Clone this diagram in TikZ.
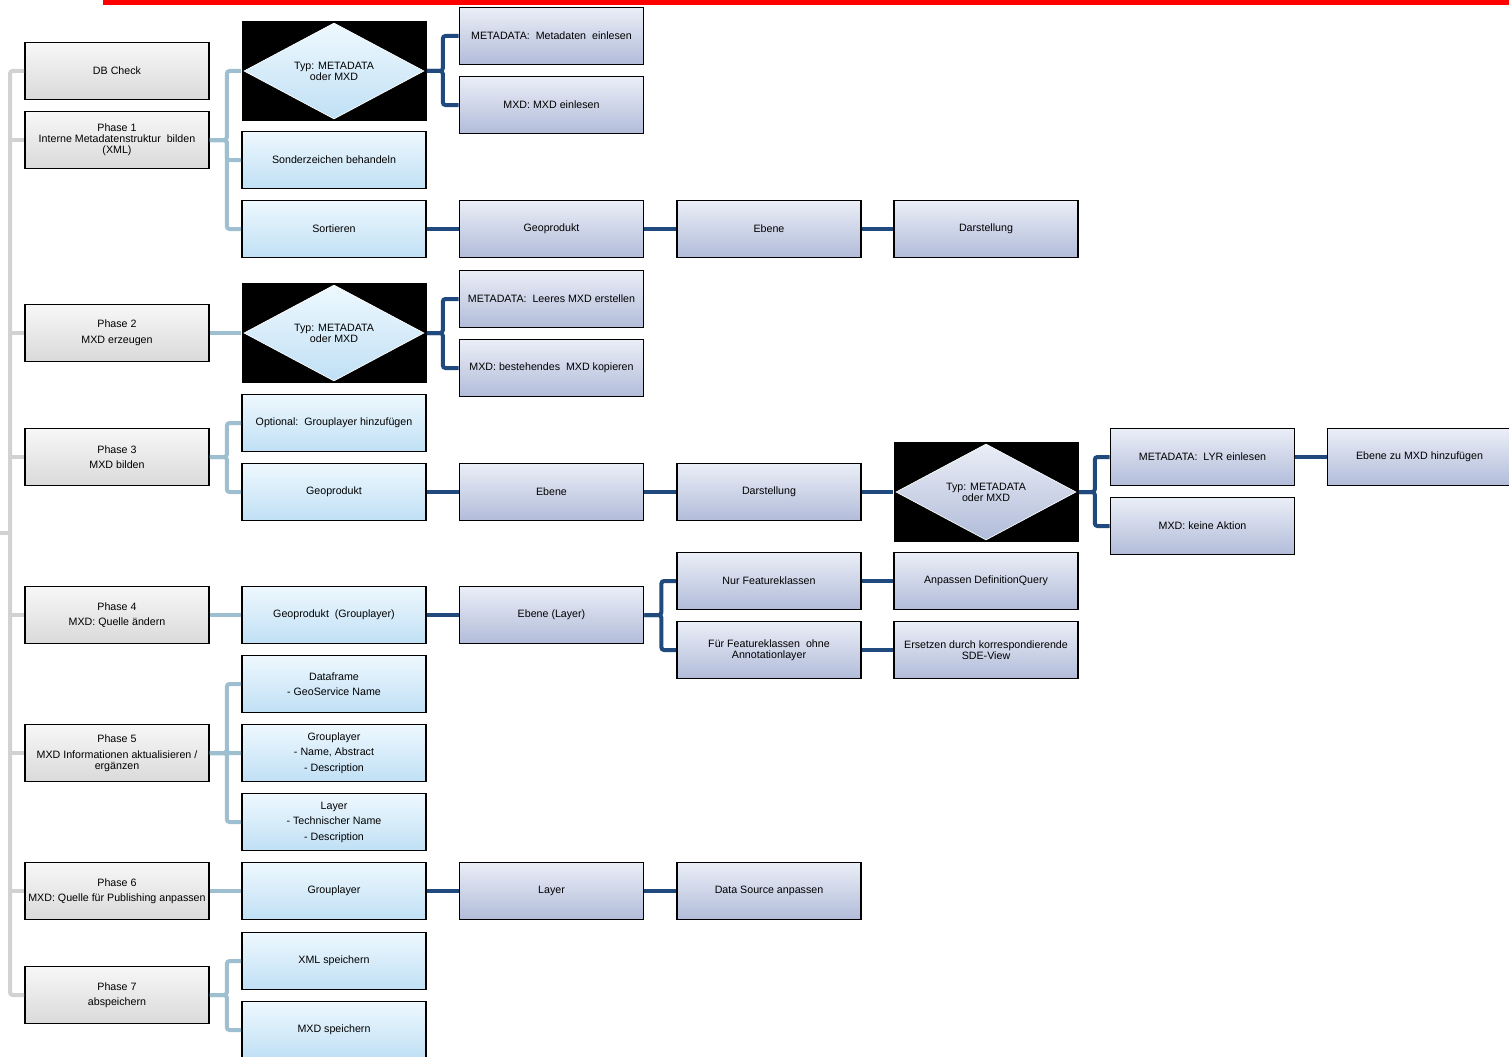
\documentclass[tikz,border=0pt]{standalone}
\usepackage{fontspec}
\setmainfont{Liberation Sans}
\usetikzlibrary{calc,shapes.geometric}
\definecolor{trunkc}{HTML}{D2D2D2}
\definecolor{lightc}{HTML}{9DBFCF}
\definecolor{darkc}{HTML}{204A7E}
\definecolor{grayT}{HTML}{F7F7F7}
\definecolor{grayB}{HTML}{DADADA}
\definecolor{blueT}{HTML}{EEF8FE}
\definecolor{blueB}{HTML}{C0E0F5}
\definecolor{lavT}{HTML}{EBEEF7}
\definecolor{lavB}{HTML}{B1BCD9}
\begin{document}
\begin{tikzpicture}[x=0.75pt,y=-0.75pt,
 box/.style={draw=black, line width=1.3pt, minimum width=138pt, minimum height=42.75pt, inner sep=1pt, align=center, font=\fontsize{8}{8.25}\selectfont},
 phasebox/.style={box, top color=grayT, bottom color=grayB},
 bluebox/.style={box, top color=blueT, bottom color=blueB},
 lavbox/.style={box, top color=lavT, bottom color=lavB},
 blackrect/.style={fill=black, minimum width=138.75pt, minimum height=75pt, inner sep=0pt},
 decision/.style={diamond, aspect=2, minimum width=135pt, minimum height=72pt, inner sep=0pt, draw=white, line width=0.5pt, align=center, font=\fontsize{8}{8.25}\selectfont},
 bluedec/.style={decision, top color=blueT, bottom color=blueB},
 lavdec/.style={decision, top color=lavT, bottom color=lavB},
 trunk/.style={draw=trunkc, line width=3pt, rounded corners=2pt},
 lightline/.style={draw=lightc, line width=3pt, rounded corners=2pt},
 darkline/.style={draw=darkc, line width=3pt, rounded corners=2pt},
]
\useasboundingbox (0,0) rectangle (1509,1056);
\fill[red] (103,0) rectangle (1509,5);

% column 1: phases
\node[phasebox] (db) at (117,71) {DB Check};
\node[phasebox] (p1) at (117,140) {Phase 1\\Interne Metadatenstruktur\ \ bilden\\(XML)};
\node[phasebox] (p2) at (117,333) {Phase 2\\[3.4pt]MXD erzeugen};
\node[phasebox] (p3) at (117,457) {Phase 3\\[3.4pt]MXD bilden};
\node[phasebox] (p4) at (117,615) {Phase 4\\[3.4pt]MXD: Quelle ändern};
\node[phasebox] (p5) at (117,753) {Phase 5\\[3.4pt]MXD Informationen aktualisieren /\\ergänzen};
\node[phasebox] (p6) at (117,891) {Phase 6\\[3.4pt]MXD: Quelle für Publishing anpassen};
\node[phasebox] (p7) at (117,995) {Phase 7\\[3.4pt]abspeichern};

% column 2
\node[blackrect] (d1bg) at (334,71) {};
\node[bluedec] (d1) at (334,71) {Typ: METADATA\\oder MXD};
\node[bluebox] (sz) at (334,160) {Sonderzeichen behandeln};
\node[bluebox] (so) at (334,229) {Sortieren};
\node[blackrect] (d2bg) at (334,333) {};
\node[bluedec] (d2) at (334,333) {Typ: METADATA\\oder MXD};
\node[bluebox] (opt) at (334,423) {Optional:\ \ Grouplayer hinzufügen};
\node[bluebox] (g3) at (334,492) {Geoprodukt};
\node[bluebox] (g4) at (334,615) {Geoprodukt\ \ (Grouplayer)};
\node[bluebox] (df) at (334,684) {Dataframe\\[3.4pt]- GeoService Name};
\node[bluebox] (gl5) at (334,753) {Grouplayer\\[3.4pt]- Name, Abstract\\[3.4pt]- Description};
\node[bluebox] (ly5) at (334,822) {Layer\\[3.4pt]- Technischer Name\\[3.4pt]- Description};
\node[bluebox] (gl6) at (334,891) {Grouplayer};
\node[bluebox] (xml) at (334,961) {XML speichern};
\node[bluebox] (mxd) at (334,1030) {MXD speichern};

% column 3
\node[lavbox] (md1) at (551.5,36) {METADATA:\ \ Metadaten\ \ einlesen};
\node[lavbox] (mx1) at (551.5,105) {MXD: MXD einlesen};
\node[lavbox] (geo1) at (551.5,229) {Geoprodukt};
\node[lavbox] (md2) at (551.5,299) {METADATA:\ \ Leeres MXD erstellen};
\node[lavbox] (mx2) at (551.5,368) {MXD: bestehendes\ \ MXD kopieren};
\node[lavbox] (eb3) at (551.5,492) {Ebene};
\node[lavbox] (ebl) at (551.5,615) {Ebene (Layer)};
\node[lavbox] (lay6) at (551.5,891) {Layer};

% column 4
\node[lavbox] (eb1) at (769,229) {Ebene};
\node[lavbox] (dar3) at (769,492) {Darstellung};
\node[lavbox] (nur) at (769,581) {Nur Featureklassen};
\node[lavbox] (fur) at (769,650) {Für Featureklassen\ \ ohne\\Annotationlayer};
\node[lavbox] (dsa) at (769,891) {Data Source anpassen};

% column 5
\node[lavbox] (dar1) at (986,229) {Darstellung};
\node[blackrect] (d3bg) at (986,492) {};
\node[lavdec] (d3) at (986,492) {Typ: METADATA\\oder MXD};
\node[lavbox] (anp) at (986,581) {Anpassen DefinitionQuery};
\node[lavbox] (ers) at (986,650) {Ersetzen durch korrespondierende\\SDE-View};

% column 6 and 7
\node[lavbox] (lyr) at (1202.5,457) {METADATA:\ \ LYR einlesen};
\node[lavbox] (kein) at (1202.5,526) {MXD: keine Aktion};
\node[lavbox] (ebm) at (1419.5,457) {Ebene zu MXD hinzufügen};

% trunk
\coordinate (tr) at (10,71);
\coordinate (stub) at (0,533);
\draw[trunk] (db.west) -| (tr |- p7.west) -- (p7.west);
\foreach \p in {p1,p2,p3,p4,p5,p6} \draw[trunk] (\p.west) -- (tr |- \p.west);
\draw[trunk] (stub) -- (tr |- stub);

% phase -> level 2
\draw[lightline] (p1.east) -- ++(17,0) |- (d1bg.west);
\draw[lightline] (p1.east) -- ++(17,0) |- (sz.west);
\draw[lightline] (p1.east) -- ++(17,0) |- (so.west);
\draw[lightline] (p2.east) -- (d2bg.west);
\draw[lightline] (p3.east) -- ++(17,0) |- (opt.west);
\draw[lightline] (p3.east) -- ++(17,0) |- (g3.west);
\draw[lightline] (p4.east) -- (g4.west);
\draw[lightline] (p5.east) -- ++(17,0) |- (df.west);
\draw[lightline] (p5.east) -- ++(17,0) |- (gl5.west);
\draw[lightline] (p5.east) -- ++(17,0) |- (ly5.west);
\draw[lightline] (p6.east) -- (gl6.west);
\draw[lightline] (p7.east) -- ++(17,0) |- (xml.west);
\draw[lightline] (p7.east) -- ++(17,0) |- (mxd.west);

% deeper levels
\draw[darkline] (d1bg.east) -- ++(16,0) |- (md1.west);
\draw[darkline] (d1bg.east) -- ++(16,0) |- (mx1.west);
\draw[darkline] (so.east) -- (geo1.west);
\draw[darkline] (geo1.east) -- (eb1.west);
\draw[darkline] (eb1.east) -- (dar1.west);
\draw[darkline] (d2bg.east) -- ++(16,0) |- (md2.west);
\draw[darkline] (d2bg.east) -- ++(16,0) |- (mx2.west);
\draw[darkline] (g3.east) -- (eb3.west);
\draw[darkline] (eb3.east) -- (dar3.west);
\draw[darkline] (dar3.east) -- (d3bg.west);
\draw[darkline] (d3bg.east) -- ++(16,0) |- (lyr.west);
\draw[darkline] (d3bg.east) -- ++(16,0) |- (kein.west);
\draw[darkline] (lyr.east) -- (ebm.west);
\draw[darkline] (g4.east) -- (ebl.west);
\draw[darkline] (ebl.east) -- ++(17,0) |- (nur.west);
\draw[darkline] (ebl.east) -- ++(17,0) |- (fur.west);
\draw[darkline] (nur.east) -- (anp.west);
\draw[darkline] (fur.east) -- (ers.west);
\draw[darkline] (gl6.east) -- (lay6.west);
\draw[darkline] (lay6.east) -- (dsa.west);
\end{tikzpicture}
\end{document}
